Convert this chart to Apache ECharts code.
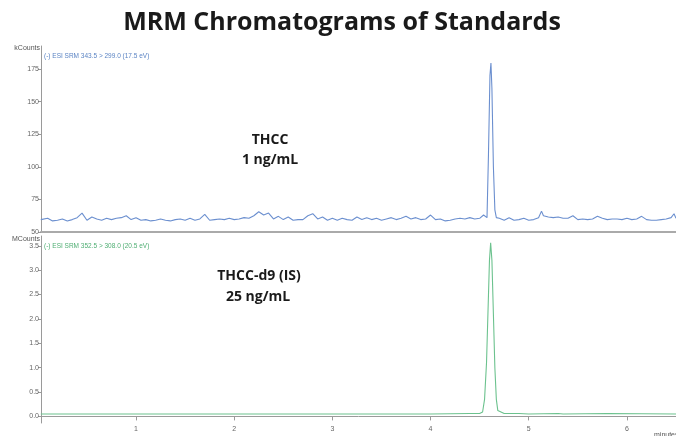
<!DOCTYPE html>
<html><head><meta charset="utf-8">
<script src="https://cdn.jsdelivr.net/npm/echarts@6/dist/echarts.min.js"></script>
<style>html,body{margin:0;padding:0;background:#fff}#c{width:676px;height:436px}</style>
</head><body><div id="c"></div>
<script>
const titleText = "MRM Chromatograms of Standards";
const topLabel = ["THCC", "1 ng/mL"];
const bottomLabel = ["THCC-d9 (IS)", "25 ng/mL"];
const topTrace = "(-) ESI SRM 343.5 > 299.0 (17.5 eV)";
const bottomTrace = "(-) ESI SRM 352.5 > 308.0 (20.5 eV)";
const topYTicks = [50, 75, 100, 125, 150, 175];
const bottomYTicks = [0, 0.5, 1.0, 1.5, 2.0, 2.5, 3.0, 3.5];
const xTicks = [1, 2, 3, 4, 5, 6];

const topTimes = [0.03,0.05,0.10,0.15,0.20,0.25,0.30,0.35,0.40,0.45,0.50,0.55,0.60,0.65,0.70,0.75,0.80,0.85,0.90,0.95,
1.00,1.05,1.10,1.15,1.20,1.25,1.30,1.35,1.40,1.45,1.50,1.55,1.60,1.65,1.70,1.75,1.80,1.85,1.90,1.95,
2.00,2.05,2.10,2.15,2.20,2.25,2.30,2.35,2.40,2.45,2.50,2.55,2.60,2.65,2.70,2.75,2.80,2.85,2.90,2.95,
3.00,3.05,3.10,3.15,3.20,3.25,3.30,3.35,3.40,3.45,3.50,3.55,3.60,3.65,3.70,3.75,3.80,3.85,3.90,3.95,
4.00,4.05,4.10,4.15,4.20,4.25,4.30,4.35,4.40,4.45,4.50,4.54,4.575,4.59,4.605,4.615,4.625,4.64,4.655,4.67,4.70,4.75,
4.80,4.85,4.90,4.95,5.00,5.05,5.10,5.13,5.15,5.20,5.25,5.30,5.35,5.40,5.45,5.50,5.55,5.60,5.65,5.70,5.75,
5.80,5.85,5.90,5.95,6.00,6.05,6.10,6.15,6.20,6.25,6.30,6.35,6.40,6.45,6.48,6.50];
const topValues = [59.5,59.5,60.5,58.5,59.0,60.0,58.5,59.5,61.0,64.5,59.0,61.5,60.0,59.0,60.5,59.5,60.5,61.0,62.5,59.5,
61.0,59.0,59.5,58.5,59.0,60.0,59.0,58.5,59.5,60.0,59.0,60.5,59.0,60.0,63.5,59.0,59.5,60.0,59.5,60.5,
59.5,60.0,61.0,60.5,62.5,65.5,63.0,64.5,60.0,62.0,59.5,61.5,59.0,59.5,59.5,62.5,64.0,60.0,61.5,59.0,
60.5,59.0,60.5,59.5,59.0,61.5,59.5,61.0,59.5,60.5,59.0,60.0,61.0,59.5,60.5,62.0,60.0,61.0,59.5,60.0,
63.0,59.5,60.0,58.5,59.0,60.0,60.5,60.0,61.0,60.0,60.5,63.0,61.0,110,170,179.5,160,100,67,61,60.5,59.0,
61.0,59.0,59.5,60.5,59.0,59.5,61.0,66.0,62.5,61.5,61.0,61.5,60.5,60.5,62.5,59.5,60.0,59.5,60.0,62.0,60.5,
59.5,60.0,60.0,59.5,60.5,59.5,60.0,62.0,59.5,59.0,59.0,59.5,60.0,61.0,64.0,60.5];

const bottomTimes = [0.03,0.50,0.52,0.54,1.00,2.00,3.00,4.00,4.40,4.50,4.53,4.55,4.57,4.59,4.60,4.612,4.625,4.64,4.655,4.67,4.685,4.70,4.75,4.90,5.00,5.30,5.35,5.80,6.50];
const bottomValues = [0.05,0.05,0.06,0.05,0.05,0.05,0.05,0.05,0.06,0.06,0.09,0.35,1.1,2.5,3.2,3.56,3.2,2.1,1.0,0.35,0.12,0.08,0.06,0.06,0.05,0.06,0.05,0.06,0.05];

const zip = (a, b) => a.map((t, i) => [t, b[i]]);
const chart = echarts.init(document.getElementById('c'), null, {renderer: 'canvas'});
const FF = '"Open Sans", "Liberation Sans", sans-serif';
const small = {fontSize: 7, color: '#666', fontFamily: '"Liberation Sans", Arial, sans-serif'};
const axisCol = '#9a9a9a';
chart.setOption({
  animation: false,
  grid: [
    {left: 41, right: 0, top: 46, height: 186},
    {left: 41, right: 0, top: 236, height: 187}
  ],
  xAxis: [
    {gridIndex: 0, type: 'value', min: 0.032, max: 6.5, axisLine: {lineStyle: {color: '#aaa', width: 2}}, axisTick: {show: false}, axisLabel: {show: false}, splitLine: {show: false}},
    {gridIndex: 1, type: 'value', min: 0.032, max: 6.5, axisLine: {lineStyle: {color: axisCol, width: 1}},
     axisTick: {customValues: [0.032].concat(xTicks), length: 4, lineStyle: {color: axisCol}},
     axisLabel: Object.assign({customValues: xTicks, margin: 3}, small), splitLine: {show: false}}
  ],
  yAxis: [
    {gridIndex: 0, type: 'value', min: 50, max: 192.6, axisLine: {show: true, lineStyle: {color: axisCol}},
     axisTick: {show: true, customValues: topYTicks, length: 3, lineStyle: {color: axisCol}},
     axisLabel: Object.assign({customValues: topYTicks, margin: 2}, small), splitLine: {show: false}},
    {gridIndex: 1, type: 'value', min: -0.135, max: 3.70, axisLine: {show: true, lineStyle: {color: axisCol}},
     axisTick: {show: true, customValues: bottomYTicks, length: 3, lineStyle: {color: axisCol}},
     axisLabel: Object.assign({customValues: bottomYTicks, margin: 2, formatter: v => v.toFixed(1)}, small), splitLine: {show: false}}
  ],
  series: [
    {type: 'line', xAxisIndex: 0, yAxisIndex: 0, data: zip(topTimes, topValues), showSymbol: false, lineStyle: {color: '#6b8fcf', width: 1.1}, clip: true},
    {type: 'line', xAxisIndex: 1, yAxisIndex: 1, data: zip(bottomTimes, bottomValues), showSymbol: false, lineStyle: {color: '#6cc28e', width: 1.1}, clip: true}
  ],
  graphic: [
    {type: 'text', x: 342, y: 23, style: {text: titleText, font: 'bold 25px ' + FF, fill: '#1a1a1a', align: 'center', verticalAlign: 'middle'}},
    {type: 'text', x: 270, y: 140, style: {text: topLabel[0], font: 'bold 14px ' + FF, fill: '#1a1a1a', align: 'center', verticalAlign: 'middle'}},
    {type: 'text', x: 270, y: 160, style: {text: topLabel[1], font: 'bold 14px ' + FF, fill: '#1a1a1a', align: 'center', verticalAlign: 'middle'}},
    {type: 'text', x: 259, y: 276, style: {text: bottomLabel[0], font: 'bold 14px ' + FF, fill: '#1a1a1a', align: 'center', verticalAlign: 'middle'}},
    {type: 'text', x: 258, y: 297, style: {text: bottomLabel[1], font: 'bold 14px ' + FF, fill: '#1a1a1a', align: 'center', verticalAlign: 'middle'}},
    {type: 'text', x: 40, y: 48, style: {text: 'kCounts', font: '7px "Liberation Sans", Arial', fill: '#555', align: 'right', verticalAlign: 'middle'}},
    {type: 'text', x: 40, y: 239, style: {text: 'MCounts', font: '7px "Liberation Sans", Arial', fill: '#555', align: 'right', verticalAlign: 'middle'}},
    {type: 'text', x: 44, y: 56, style: {text: topTrace, font: '6.5px "Liberation Sans", Arial', fill: '#5b84c4', align: 'left', verticalAlign: 'middle'}},
    {type: 'text', x: 44, y: 246, style: {text: bottomTrace, font: '6.5px "Liberation Sans", Arial', fill: '#4fae73', align: 'left', verticalAlign: 'middle'}},
    {type: 'text', x: 654, y: 435, style: {text: 'minutes', font: '7px "Liberation Sans", Arial', fill: '#555', align: 'left', verticalAlign: 'middle'}}
  ]
});
</script></body></html>
